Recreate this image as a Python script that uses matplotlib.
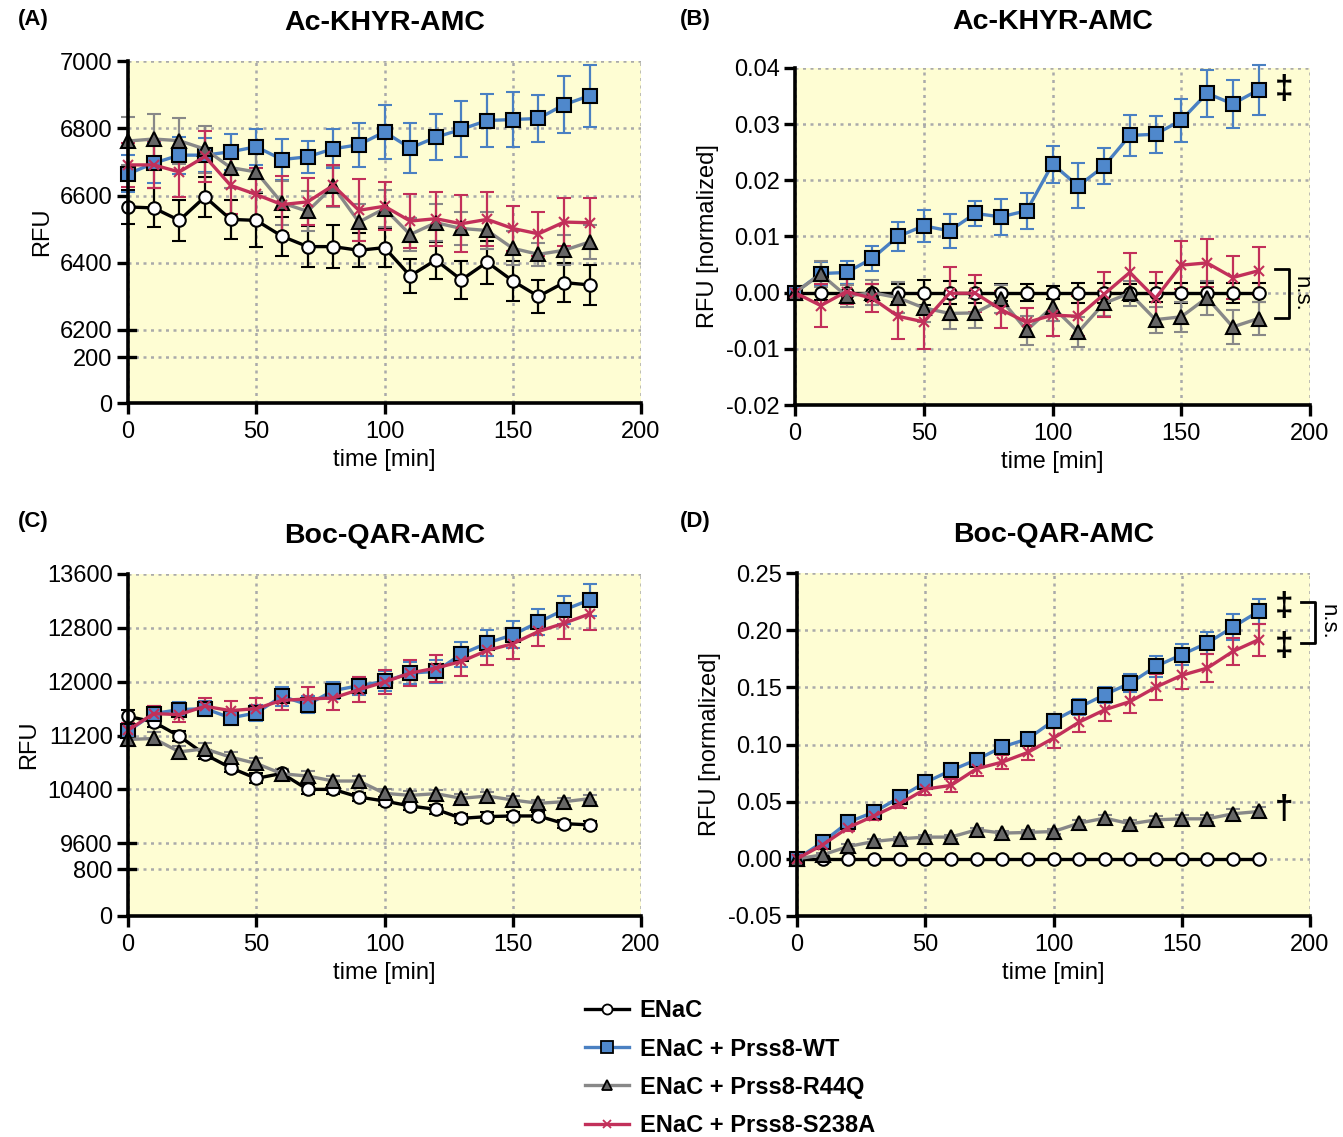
# ENaC / Prss8 fluorogenic substrate time courses (4 panels)

import matplotlib
matplotlib.use('Agg')
import matplotlib.pyplot as plt
import numpy as np
from matplotlib.lines import Line2D
from matplotlib.ticker import FormatStrFormatter
import matplotlib.transforms as mtransforms

plt.rcParams['font.family'] = ['Liberation Sans', 'DejaVu Sans']
plt.rcParams['axes.unicode_minus'] = False

time = [0, 10, 20, 30, 40, 50, 60, 70, 80, 90, 100, 110, 120, 130, 140, 150, 160, 170, 180]
labels = ['ENaC', 'ENaC + Prss8-WT', 'ENaC + Prss8-R44Q', 'ENaC + Prss8-S238A']

# (A) Ac-KHYR-AMC raw RFU
a_enac = [6566, 6563, 6526, 6596, 6529, 6526, 6479, 6448, 6448, 6437, 6445, 6361, 6408, 6349, 6402, 6346, 6300, 6341, 6334]
a_enac_err = [50, 58, 60, 60, 58, 80, 58, 62, 65, 50, 58, 50, 55, 56, 64, 60, 50, 58, 60]
a_wt = [6664, 6696, 6720, 6720, 6730, 6745, 6707, 6715, 6739, 6751, 6789, 6741, 6773, 6797, 6823, 6826, 6829, 6870, 6897]
a_wt_err = [55, 60, 55, 50, 53, 53, 60, 48, 58, 66, 80, 75, 68, 83, 78, 82, 70, 84, 92]
a_r44q = [6762, 6768, 6763, 6738, 6683, 6670, 6578, 6553, 6627, 6521, 6561, 6484, 6519, 6502, 6496, 6443, 6425, 6437, 6462]
a_r44q_err = [70, 75, 68, 70, 60, 60, 65, 60, 60, 55, 55, 50, 55, 50, 55, 50, 35, 45, 50]
a_s238a = [6691, 6691, 6670, 6716, 6630, 6603, 6573, 6581, 6630, 6556, 6568, 6524, 6531, 6516, 6529, 6502, 6486, 6521, 6519]
a_s238a_err = [65, 70, 75, 75, 85, 80, 85, 70, 62, 92, 72, 80, 80, 85, 80, 67, 65, 72, 75]

# (B) Ac-KHYR-AMC normalized
b_enac = [0] * 19
b_enac_err = [0, 0.0013, 0.0015, 0.0015, 0.0016, 0.0022, 0.002, 0.0018, 0.0015, 0.0015, 0.0012, 0.0018, 0.0018, 0.0015, 0.0017, 0.0018, 0.0018, 0.0018, 0.0017]
b_wt = [0, 0.0034, 0.0036, 0.0061, 0.0100, 0.0119, 0.0110, 0.0141, 0.0135, 0.0146, 0.0229, 0.0190, 0.0225, 0.0280, 0.0282, 0.0307, 0.0355, 0.0336, 0.0361]
b_wt_err = [0, 0.002, 0.002, 0.0022, 0.0025, 0.0029, 0.003, 0.0022, 0.0032, 0.0032, 0.0033, 0.004, 0.0032, 0.0036, 0.0033, 0.0038, 0.0042, 0.0042, 0.0044]
b_r44q = [0, 0.0033, -0.0006, 0.0, -0.0009, -0.0027, -0.0037, -0.0036, -0.0012, -0.0067, -0.0025, -0.0070, -0.0019, -0.0001, -0.0048, -0.0043, -0.0009, -0.0061, -0.0046]
b_r44q_err = [0, 0.0023, 0.002, 0.0022, 0.0028, 0.0025, 0.0028, 0.0027, 0.0025, 0.0026, 0.0025, 0.0027, 0.0022, 0.0022, 0.0023, 0.0027, 0.003, 0.003, 0.003]
b_s238a = [0, -0.0023, 0.0002, -0.0010, -0.0042, -0.0052, -0.0001, -0.0001, -0.0030, -0.0053, -0.0040, -0.0042, -0.0003, 0.0036, -0.0010, 0.0049, 0.0053, 0.0027, 0.0039]
b_s238a_err = [0, 0.0038, 0.0022, 0.0025, 0.0041, 0.0048, 0.0047, 0.0033, 0.0033, 0.0026, 0.0037, 0.0036, 0.004, 0.0035, 0.0047, 0.0043, 0.0043, 0.0038, 0.0043]

# (C) Boc-QAR-AMC raw RFU
c_enac = [11486, 11402, 11190, 10919, 10721, 10563, 10637, 10400, 10400, 10286, 10227, 10153, 10104, 9970, 9995, 10005, 10005, 9891, 9872]
c_enac_err = [100, 70, 70, 70, 70, 75, 70, 75, 70, 65, 65, 65, 65, 70, 65, 65, 65, 60, 60]
c_wt = [11264, 11526, 11585, 11600, 11462, 11536, 11783, 11659, 11867, 11941, 12005, 12128, 12153, 12410, 12573, 12696, 12884, 13067, 13215]
c_wt_err = [100, 110, 110, 110, 110, 120, 140, 130, 130, 135, 150, 160, 170, 185, 190, 200, 190, 210, 240]
c_r44q = [11141, 11156, 10958, 11002, 10879, 10785, 10632, 10598, 10524, 10524, 10341, 10311, 10336, 10267, 10301, 10242, 10193, 10217, 10262]
c_r44q_err = [100, 90, 80, 85, 80, 80, 70, 70, 70, 70, 65, 60, 60, 60, 55, 55, 50, 55, 55]
c_s238a = [11279, 11526, 11511, 11635, 11570, 11600, 11723, 11743, 11758, 11881, 11995, 12128, 12202, 12301, 12464, 12563, 12746, 12869, 13007]
c_s238a_err = [100, 120, 110, 130, 150, 160, 150, 180, 185, 185, 185, 190, 200, 210, 215, 230, 220, 240, 240]

# (D) Boc-QAR-AMC normalized
d_enac = [0] * 19
d_enac_err = [0] * 19
d_wt = [0, 0.0146, 0.0321, 0.0409, 0.0537, 0.0668, 0.0773, 0.0867, 0.0978, 0.1050, 0.1208, 0.1325, 0.1436, 0.1538, 0.1684, 0.1786, 0.1888, 0.2028, 0.2165]
d_wt_err = [0, 0.003, 0.003, 0.003, 0.004, 0.004, 0.004, 0.005, 0.005, 0.005, 0.006, 0.007, 0.007, 0.008, 0.009, 0.009, 0.010, 0.011, 0.011]
d_r44q = [0, 0.0035, 0.0108, 0.0152, 0.0175, 0.0190, 0.0190, 0.0254, 0.0225, 0.0231, 0.0239, 0.0312, 0.0356, 0.0306, 0.0341, 0.0350, 0.0350, 0.0394, 0.0414]
d_r44q_err = [0, 0.002, 0.002, 0.002, 0.002, 0.002, 0.002, 0.002, 0.002, 0.002, 0.002, 0.003, 0.003, 0.003, 0.003, 0.003, 0.003, 0.004, 0.004]
d_s238a = [0, 0.0123, 0.0274, 0.0376, 0.0481, 0.0610, 0.0642, 0.0788, 0.0846, 0.0931, 0.1056, 0.1196, 0.1304, 0.1377, 0.1503, 0.1605, 0.1669, 0.1815, 0.1917]
d_s238a_err = [0, 0.003, 0.003, 0.004, 0.004, 0.005, 0.006, 0.006, 0.006, 0.007, 0.009, 0.009, 0.010, 0.010, 0.011, 0.012, 0.012, 0.012, 0.014]

# styles: line color, marker, marker face, errorbar color
styles = [
    dict(color='black', marker='o', mfc='white', ecol='black', ms=9),
    dict(color='#4a80c2', marker='s', mfc='#4f88cc', ecol='#4a80c2', ms=10),
    dict(color='#888888', marker='^', mfc='#666666', ecol='#888888', ms=9.5),
    dict(color='#c2305a', marker='x', mfc='#c2305a', ecol='#c2305a', ms=7),
]
bg = '#fefdd3'


def draw_series(ax, series):
    for (y, err), st in zip(series, styles):
        mec = st['color'] if st['marker'] == 'x' else 'black'
        eb = ax.errorbar(time, y, yerr=err, color=st['color'], ecolor=st['ecol'], lw=2.4,
                         elinewidth=1.6, capsize=5, capthick=1.6, marker=st['marker'],
                         ms=st['ms'], mfc=st['mfc'], mec=mec, mew=1.5)
        for art in eb.lines[0:1] + tuple(eb.lines[1]) + tuple(eb.lines[2]):
            art.set_clip_on(False)


def style_axes(ax, yticks, ylabel, title, tpad=22):
    ax.set_facecolor(bg)
    ax.set_xlim(0, 200)
    ax.set_xticks([0, 50, 100, 150, 200])
    ax.set_yticks(yticks)
    ax.grid(True, color='#aaaaaa', linestyle=(0, (1.2, 1.8)), lw=1.8)
    ax.set_axisbelow(True)
    for s in ['top', 'right']:
        ax.spines[s].set_visible(False)
    for s in ['left', 'bottom']:
        ax.spines[s].set_linewidth(2.6)
    ax.tick_params(direction='out', length=8, width=2.4, labelsize=17, pad=3)
    ax.tick_params(axis='x', pad=5)
    ax.set_xlabel('time [min]', fontsize=17, labelpad=4)
    ax.set_ylabel(ylabel, fontsize=17, labelpad=5)
    ax.set_title(title, fontsize=20.5, fontweight='bold', pad=tpad)


def broken_scale(ax, data_pts, px_pts):
    fwd = lambda v: np.interp(v, data_pts, px_pts)
    inv = lambda v: np.interp(v, px_pts, data_pts)
    ax.set_yscale('function', functions=(fwd, inv))
    trans = mtransforms.blended_transform_factory(ax.transAxes, ax.transData)
    for yb in data_pts[1:3]:
        ax.plot([-0.0, 0.014], [yb, yb], color='black', lw=2.4, transform=trans, clip_on=False, zorder=5)


fig = plt.figure(figsize=(13.43, 11.37), dpi=100)
W, H = 1343.0, 1137.0

axA = fig.add_axes([128 / W, 1 - 403 / H, 513 / W, 342 / H])
axB = fig.add_axes([795 / W, 1 - 405 / H, 515 / W, 337 / H])
axC = fig.add_axes([128 / W, 1 - 916 / H, 513 / W, 342 / H])
axD = fig.add_axes([797 / W, 1 - 916 / H, 513 / W, 343 / H])

# panel A
draw_series(axA, [(a_enac, a_enac_err), (a_wt, a_wt_err), (a_r44q, a_r44q_err), (a_s238a, a_s238a_err)])
broken_scale(axA, [0, 200, 6200, 7000], [0, 46, 73, 342])
axA.set_ylim(0, 7000)
style_axes(axA, [0, 200, 6200, 6400, 6600, 6800, 7000], 'RFU', 'Ac-KHYR-AMC')

# panel B
draw_series(axB, [(b_enac, b_enac_err), (b_wt, b_wt_err), (b_r44q, b_r44q_err), (b_s238a, b_s238a_err)])
axB.set_ylim(-0.02, 0.04)
style_axes(axB, [-0.02, -0.01, 0.0, 0.01, 0.02, 0.03, 0.04], 'RFU [normalized]', 'Ac-KHYR-AMC', tpad=28)
axB.yaxis.set_major_formatter(FormatStrFormatter('%.2f'))
axB.text(190, 0.0361, '\u2021', fontsize=24, fontweight='bold', ha='center', va='center', clip_on=False)
axB.plot([186.5, 192, 192, 186.5], [0.0042, 0.0042, -0.0045, -0.0045], color='black', lw=2, clip_on=False)
axB.text(196.5, -0.0002, 'n.s.', fontsize=16, rotation=-90, ha='center', va='center', clip_on=False)

# panel C
draw_series(axC, [(c_enac, c_enac_err), (c_wt, c_wt_err), (c_r44q, c_r44q_err), (c_s238a, c_s238a_err)])
broken_scale(axC, [0, 800, 9600, 13600], [0, 47, 73, 343])
axC.set_ylim(0, 13600)
style_axes(axC, [0, 800, 9600, 10400, 11200, 12000, 12800, 13600], 'RFU', 'Boc-QAR-AMC')

# panel D
draw_series(axD, [(d_enac, d_enac_err), (d_wt, d_wt_err), (d_r44q, d_r44q_err), (d_s238a, d_s238a_err)])
axD.set_ylim(-0.05, 0.25)
style_axes(axD, [-0.05, 0.0, 0.05, 0.10, 0.15, 0.20, 0.25], 'RFU [normalized]', 'Boc-QAR-AMC')
axD.yaxis.set_major_formatter(FormatStrFormatter('%.2f'))
axD.text(190, 0.221, '\u2021', fontsize=24, fontweight='bold', ha='center', va='center', clip_on=False)
axD.text(190, 0.186, '\u2021', fontsize=24, fontweight='bold', ha='center', va='center', clip_on=False)
axD.text(190, 0.043, '\u2020', fontsize=24, fontweight='bold', ha='center', va='center', clip_on=False)
axD.plot([196.5, 202, 202, 196.5], [0.2244, 0.2244, 0.1888, 0.1888], color='black', lw=2, clip_on=False)
axD.text(207, 0.207, 'n.s.', fontsize=16, rotation=-90, ha='center', va='center', clip_on=False)

# panel letters
for lab, x, y in [('(A)', 18, 20), ('(B)', 680, 20), ('(C)', 18, 522), ('(D)', 680, 522)]:
    fig.text(x / W, 1 - y / H, lab, fontsize=16, fontweight='bold', ha='left', va='center')

# legend
handles = []
for st in styles:
    mec = st['color'] if st['marker'] == 'x' else 'black'
    handles.append(Line2D([], [], color=st['color'], lw=2.4, marker=st['marker'],
                          ms=st['ms'] * 0.8, mfc=st['mfc'], mec=mec, mew=1.3))
fig.legend(handles, labels, loc='upper left', bbox_to_anchor=(576 / W, 1 - 990 / H), frameon=False,
           prop={'size': 17, 'weight': 'bold'}, labelspacing=0.64, handlelength=1.85, handletextpad=0.45,
           borderaxespad=0)

fig.savefig('out.png', dpi=100)
